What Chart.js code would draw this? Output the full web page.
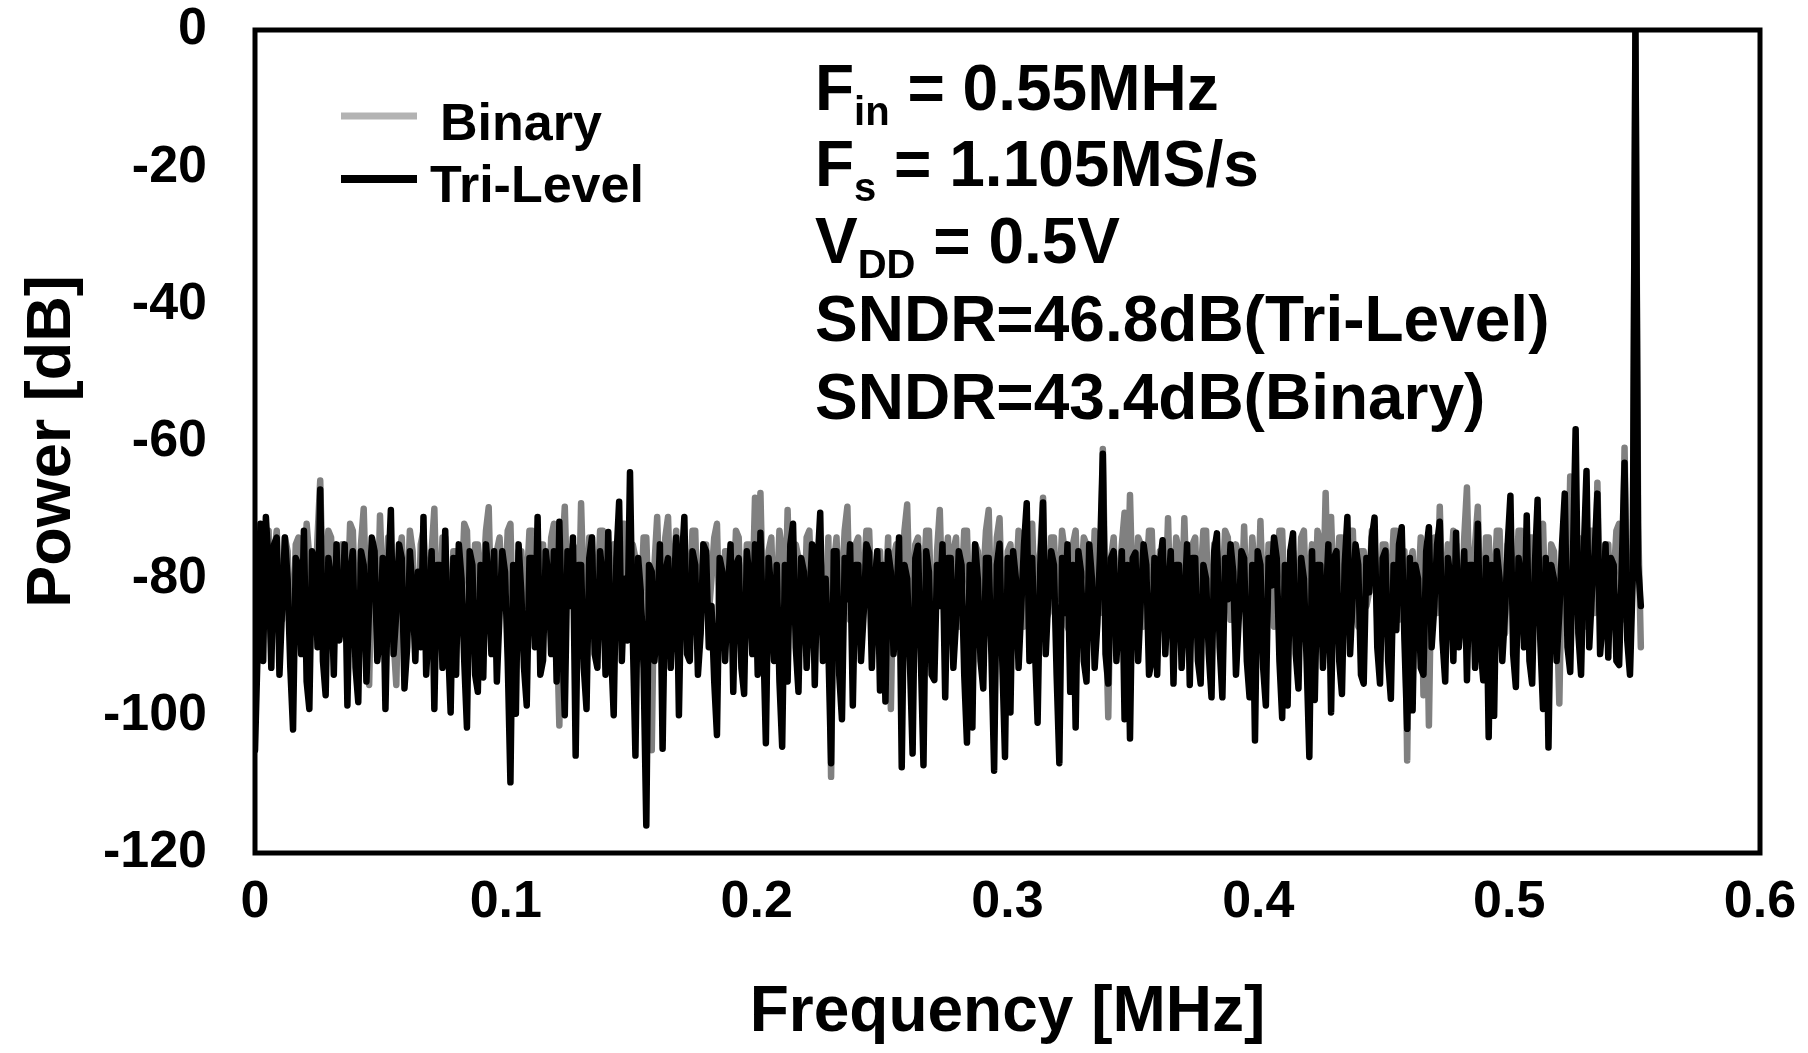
<!DOCTYPE html>
<html>
<head>
<meta charset="utf-8">
<title>Output spectrum</title>
<script src="https://cdn.jsdelivr.net/npm/chart.js@4.4.0/dist/chart.umd.min.js"></script>
<style>
  html, body { margin: 0; padding: 0; background: #ffffff; }
  canvas { display: block; }
</style>
</head>
<body>
<canvas id="spectrum" width="1808" height="1053"></canvas>
<script>
// FFT output spectrum of the SAR ADC, evenly spaced bins from DC to Fs/2
const sampleRateMHz = 1.105;

// Power per bin [dB], tri-level switching
const triLevel = [
  -105,-90, -72,-92, -71,-78, -93,-75, -74,-94, -84,-74, -80,-93, -102,-77, -78,-91, -73,-95,
  -99,-76, -77,-90, -67,-92, -97,-77, -80,-94, -75,-89, -86,-75, -98.5,-79, -76,-93, -98,-76,
  -78,-95, -84,-74, -76,-92, -88,-77, -99,-80, -70,-91, -85,-75, -77,-96, -90,-76, -82,-92,
  -79,-90, -71,-94, -86,-76, -99,-78, -78,-93, -73,-89, -99.5,-77, -94,-75, -80,-92, -101.7,-76,
  -78,-94, -96.5,-78, -94.4,-75, -80,-91, -76,-95, -85,-76, -79,-92, -109.7,-78, -99.7,-75, -82,-93,
  -98.5,-77, -77,-90, -71,-94, -91.9,-76, -80,-91, -76,-95, -71.7,-88, -99.9,-76, -84,-74, -105.8,-78,
  -78,-93, -99,-77, -74,-91, -93,-76, -80,-94, -73.2,-90, -99.9,-77, -68.8,-92, -80,-89, -64.5,-88,
  -105.8,-77, -82,-93, -116,-78, -79,-92, -86,-75, -104.8,-79, -77,-93, -83,-74, -99.9,-78, -71,-91,
  -92,-76, -78,-94, -88,-75, -76,-90, -84,-95, -102.8,-77, -79,-92, -82,-75, -96.5,-78, -77,-93,
  -96.8,-76, -80,-91, -75,-94, -73.3,-88, -104,-77, -82,-92, -78,-95, -104.5,-78, -95,-75, -72,-90,
  -96.5,-77, -79,-93, -84,-75, -95.5,-78, -70.4,-92, -80,-90, -106.9,-76, -76,-94, -100.5,-77, -83,-75,
  -98.5,-78, -78,-92, -85,-75, -76.2,-93, -81,-76, -96.3,-78, -97.9,-76, -79,-91, -84,-74, -107.5,-78,
  -80,-92, -105.5,-77, -75.2,-91, -107.2,-76, -79,-94, -94.8,-78, -84,-75, -97.3,-77, -77,-93, -86,-76,
  -78,-94, -103.9,-78, -101.7,-75, -80,-92, -96,-77, -77,-91, -108,-78, -74.9,-92, -106,-77, -99.5,-76,
  -80,-93, -84,-75, -69,-92, -77,-90, -101,-78, -68.9,-91, -82,-76, -78,-94, -106.9,-77, -85,-75,
  -96.5,-78, -101.7,-76, -79,-92, -95,-75, -80,-93, -86.5,-76, -61.8,-91, -95.3,-77, -76,-92, -84,-76,
  -100.5,-78, -103.3,-77, -76.2,-92, -83,-75, -78,-94, -91.9,-77, -94,-78, -74.4,-91, -82,-76, -95.3,-78,
  -78,-93, -84,-75, -95.5,-77, -77,-92, -95.3,-78, -80,-91, -97.3,-76, -73.4,-90, -97.3,-77, -83,-75,
  -79,-94, -86,-76, -77,-92, -97.3,-78, -103.6,-76, -78,-93, -98.5,-77, -81,-74, -77,-92, -100.3,-78,
  -98.5,-76, -73.4,-91, -96,-77, -80,-92, -106,-76, -97.7,-78, -78,-93, -84,-75, -99.5,-77, -76,-92,
  -96.8,-78, -71,-91, -82,-75, -78,-94, -95.3,-77, -82,-74, -71.1,-90, -95.3,-77, -75.9,-92, -97.5,-78,
  -87.5,-75, -72.5,-89, -101.9,-77, -99.2,-78, -80,-93, -94,-76, -72.5,-90, -84,-75, -71.7,-89, -95,-77,
  -80,-92, -73.3,-90, -85,-76, -94.8,-78, -78,-93, -72,-90, -94.8,-77, -103.1,-78, -100,-76, -80,-92,
  -85,-75, -67.9,-91, -95.8,-77, -80,-90, -70.8,-92, -95.3,-78, -68.5,-89, -99,-77, -104.6,-78, -80,-92,
  -85,-75, -67.6,-90, -93.6,-77, -58.2,-88, -94,-76, -64.3,-90, -82,-76, -67.6,-91, -86,-75, -91.5,-77,
  -78,-92, -92.6,-78, -63.1,-89, -94,-80, 0,-78, -84
];

// Power per bin [dB], binary switching
const binary = [
  -82,-75, -74,-86, -79,-73, -90,-77, -73,-85, -86,-74, -76,-88, -88,-75, -74,-84, -83,-72,
  -77,-87, -85,-74, -65.7,-82, -80,-73, -74,-88, -87,-76, -75,-83, -84,-72, -73,-86, -86,-75,
  -69.8,-84, -95.5,-76, -78,-87, -70.8,-82, -86,-74, -75,-89, -95.5,-77, -74,-85, -84,-73, -76,-88,
  -88,-75, -73,-84, -80,-76, -69.8,-86, -85,-74, -74,-88, -89,-76, -76,-83, -82,-72, -73,-87,
  -87,-75, -75,-84, -80,-73, -69.6,-86, -86,-76, -74,-83, -83,-73, -72,-88, -88,-76, -76,-84,
  -81,-73, -73,-87, -87,-75, -75,-85, -84,-74, -72,-86, -101.4,-77, -69.5,-84, -80,-75, -76,-88,
  -69,-83, -86,-74, -74,-87, -82,-73, -73,-85, -88,-76, -75,-84, -80,-72, -72,-87, -85,-75,
  -77,-88, -84,-74, -74,-86, -105,-78, -71,-84, -86,-74, -71,-85, -79,-73, -88,-76, -74,-84,
  -82,-73, -73,-87, -87,-75, -75,-85, -80,-74, -72,-88, -89,-76, -76,-83, -84,-73, -74,-86,
  -86,-75, -75,-84, -68.2,-80, -67.5,-85, -98,-76, -74,-87, -83,-73, -76,-88, -70,-84, -85,-75,
  -77,-86, -88,-74, -73,-84, -82,-76, -75,-87, -86,-74, -108.9,-78, -74,-85, -81,-73, -69.5,-86,
  -85,-75, -74,-88, -80,-73, -73,-84, -88,-76, -76,-85, -83,-74, -99,-77, -75,-86, -82,-73,
  -69.2,-84, -86,-75, -74,-87, -81,-73, -73,-85, -88,-76, -70,-84, -79,-74, -85,-76, -74,-87,
  -82,-73, -73,-86, -87,-75, -76,-84, -80,-73, -70,-86, -84,-74, -71.2,-85, -88,-76, -75,-83,
  -81,-73, -74,-87, -86,-75, -72,-84, -79,-76, -68.2,-86, -85,-74, -74,-83, -82,-73, -76,-87,
  -88,-75, -73,-84, -80,-74, -75,-86, -84,-73, -76,-85, -61.1,-84, -100.2,-77, -74,-86, -81,-75,
  -70.4,-84, -67.8,-83, -84,-74, -75,-87, -80,-73, -73,-85, -87,-76, -76,-84, -71.2,-86, -82,-74,
  -76,-85, -71.2,-84, -85,-75, -74,-87, -80,-73, -73,-86, -88,-75, -76,-84, -82,-73, -74,-86,
  -86,-75, -77,-84, -72.4,-85, -83,-74, -79,-86, -71.6,-84, -86,-75, -75,-87, -81,-73, -73,-85,
  -88,-76, -76,-84, -84,-74, -73,-86, -80,-75, -86,-73, -75,-84, -67.5,-85, -71,-83, -83,-74,
  -74,-86, -80,-73, -73,-85, -87,-76, -76,-84, -82,-73, -74,-86, -88,-75, -75,-84, -81,-73,
  -73,-86, -85,-76, -106.5,-78, -76,-85, -82,-74, -97,-77, -101.4,-76, -74,-85, -69.5,-84, -84,-75,
  -80,-73, -75,-86, -86,-74, -66.7,-84, -80,-75, -69.5,-86, -87,-74, -74,-85, -82,-73, -73,-86,
  -88,-75, -75,-84, -81,-73, -73,-86, -86,-74, -74,-85, -80,-73, -72,-87, -85,-75, -76,-84,
  -98.2,-76, -74,-86, -65.1,-83, -82,-74, -76,-86, -87,-73, -73,-85, -66,-84, -84,-75, -75,-87,
  -80,-73, -72,-86, -60.9,-85, -85,-80, 0,-72, -90
];

const seriesNames = ['Binary', 'Tri-Level'];
const xTickLabels = ['0', '0.1', '0.2', '0.3', '0.4', '0.5', '0.6'];
const yTickLabels = ['-120', '-100', '-80', '-60', '-40', '-20', '0'];
const xTitle = 'Frequency [MHz]';
const yTitle = 'Power [dB]';

// Measurement conditions: each line is a list of [text, isSubscript]
const conditionLines = [
  [['F', false], ['in', true], [' = 0.55MHz', false]],
  [['F', false], ['s', true], [' = 1.105MS/s', false]],
  [['V', false], ['DD', true], [' = 0.5V', false]],
  [['SNDR=46.8dB(Tri-Level)', false]],
  [['SNDR=43.4dB(Binary)', false]]
];

const FONT = '"Liberation Sans", Arial, Helvetica, sans-serif';
const binFreq = (i, n) => i * (sampleRateMHz / 2) / (n - 1);
const toPoints = arr => arr.map((v, i) => ({ x: binFreq(i, arr.length), y: v }));
const labelFor = (labels, value) => {
  const hit = labels.find(l => Math.abs(Number(l) - value) < 1e-6);
  return hit === undefined ? '' : hit;
};

// Frame, in-plot legend and condition text
const decorations = {
  id: 'decorations',
  afterDatasetsDraw(chart) {
    const { ctx, chartArea: a } = chart;
    ctx.save();
    ctx.strokeStyle = '#000000';
    ctx.lineWidth = 5;
    ctx.strokeRect(a.left, a.top, a.right - a.left, a.bottom - a.top);
    ctx.restore();
  },
  afterDraw(chart) {
    const { ctx } = chart;
    ctx.save();
    // legend
    ctx.lineCap = 'butt';
    ctx.lineWidth = 7;
    ctx.strokeStyle = '#b3b3b3';
    ctx.beginPath(); ctx.moveTo(341, 116); ctx.lineTo(417, 116); ctx.stroke();
    ctx.strokeStyle = '#000000';
    ctx.lineWidth = 8;
    ctx.beginPath(); ctx.moveTo(341, 179); ctx.lineTo(417, 179); ctx.stroke();
    ctx.fillStyle = '#000000';
    ctx.textBaseline = 'alphabetic';
    ctx.textAlign = 'left';
    ctx.font = 'bold 52px ' + FONT;
    ctx.fillText(seriesNames[0], 440, 140);
    ctx.fillText(seriesNames[1], 430, 202);

    // conditions
    const baseX = 815;
    const baselines = [110, 186, 263, 341, 419];
    conditionLines.forEach((parts, li) => {
      let x = baseX;
      parts.forEach(([txt, sub]) => {
        ctx.font = (sub ? 'bold 40px ' : 'bold 64px ') + FONT;
        const y = baselines[li] + (sub ? 15 : 0);
        ctx.fillText(txt, x, y);
        x += ctx.measureText(txt).width;
      });
    });
    ctx.restore();
  }
};

new Chart(document.getElementById('spectrum'), {
  type: 'line',
  data: {
    datasets: [
      {
        label: seriesNames[1],
        data: toPoints(triLevel),
        borderColor: '#000000',
        borderWidth: 6.5,
        pointRadius: 0,
        tension: 0,
        borderCapStyle: 'round',
        borderJoinStyle: 'round',
        order: 0
      },
      {
        label: seriesNames[0],
        data: toPoints(binary),
        borderColor: '#808080',
        borderWidth: 6.5,
        pointRadius: 0,
        tension: 0,
        borderCapStyle: 'round',
        borderJoinStyle: 'round',
        order: 1
      }
    ]
  },
  options: {
    responsive: false,
    animation: false,
    devicePixelRatio: 1,
    layout: { padding: { top: 30, right: 48, bottom: 0, left: 0 } },
    plugins: {
      legend: { display: false },
      tooltip: { enabled: false }
    },
    scales: {
      x: {
        type: 'linear',
        min: 0,
        max: 0.6,
        afterFit: s => { s.height = 200; s.paddingLeft = 0; s.paddingRight = 0; },
        afterBuildTicks: s => { s.ticks = xTickLabels.map(l => ({ value: Number(l) })); },
        grid: { display: false, drawTicks: false, tickLength: 0 },
        border: { display: false },
        ticks: {
          color: '#000000',
          padding: 18,
          maxRotation: 0,
          autoSkip: false,
          font: { family: FONT, size: 52, weight: 'bold', lineHeight: 1.2 },
          callback: v => labelFor(xTickLabels, v)
        },
        title: {
          display: true,
          text: xTitle,
          color: '#000000',
          padding: { top: 0, bottom: 1 },
          font: { family: FONT, size: 64, weight: 'bold', lineHeight: 1.2 }
        }
      },
      y: {
        type: 'linear',
        min: -120,
        max: 0,
        afterFit: s => { s.width = 255; s.paddingTop = 0; s.paddingBottom = 0; },
        afterBuildTicks: s => { s.ticks = yTickLabels.map(l => ({ value: Number(l) })); },
        grid: { display: false, drawTicks: false, tickLength: 0 },
        border: { display: false },
        ticks: {
          color: '#000000',
          padding: 48,
          autoSkip: false,
          font: { family: FONT, size: 52, weight: 'bold', lineHeight: 1.0 },
          callback: v => labelFor(yTickLabels, v)
        },
        title: {
          display: true,
          text: yTitle,
          color: '#000000',
          padding: { top: 15, bottom: 0 },
          font: { family: FONT, size: 63, weight: 'bold', lineHeight: 1.2 }
        }
      }
    }
  },
  plugins: [decorations]
});
</script>
</body>
</html>
